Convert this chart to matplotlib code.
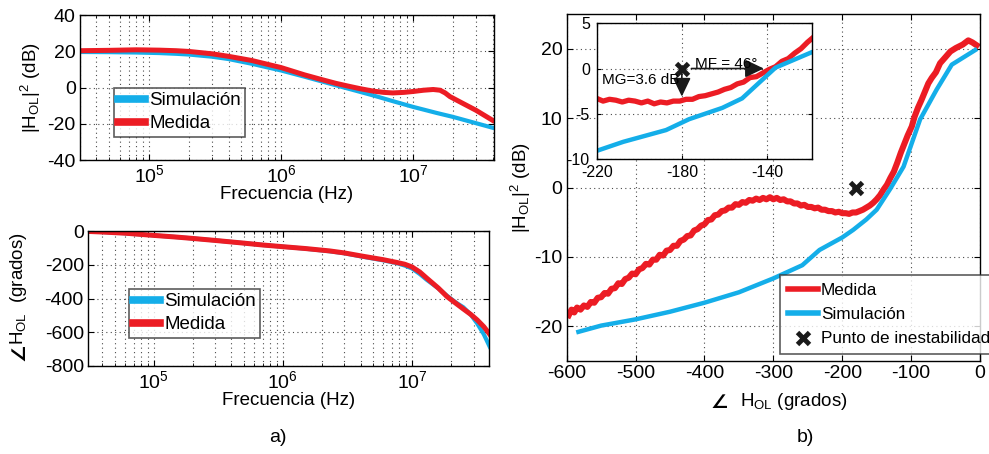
import matplotlib
matplotlib.use("Agg")
import matplotlib.pyplot as plt
from matplotlib.ticker import LogLocator, NullFormatter, FixedLocator

plt.rcParams['font.family'] = ['Liberation Sans', 'DejaVu Sans']
plt.rcParams['mathtext.fontset'] = 'custom'
plt.rcParams['mathtext.rm'] = 'Liberation Sans'
plt.rcParams['mathtext.it'] = 'Liberation Sans'
plt.rcParams['mathtext.bf'] = 'Liberation Sans:bold'
plt.rcParams['mathtext.default'] = 'regular'
plt.rcParams['mathtext.fallback'] = 'stixsans'
plt.rcParams['axes.unicode_minus'] = False

BLUE = '#14aee9'
RED = '#ec1c24'
GRID = dict(color='#4a4a4a', linestyle=(0, (1, 3)), linewidth=0.8)

# ---------------- Bode magnitude (Hz, dB) ----------------
freq_mag_sim = [3e4, 5e4, 8e4, 1.2e5, 1.6e5, 2e5, 3e5, 4e5, 6e5, 8e5, 1e6,
                1.5e6, 2e6, 3e6, 5e6, 7e6, 1e7, 1.5e7, 2e7, 3e7, 4e7]
mag_sim = [19.6, 19.5, 19.3, 19.0, 18.6, 18.2, 17.0, 15.7, 13.1, 11.0, 9.4,
           6.0, 3.5, 0.0, -4.4, -7.5, -10.7, -14.0, -16.2, -19.7, -22.2]
freq_mag_med = [3e4, 5e4, 8e4, 1.2e5, 1.6e5, 2e5, 3e5, 4e5, 6e5, 8e5, 1e6,
                1.5e6, 2e6, 2.6e6, 3.3e6, 4e6, 5e6, 6e6, 7e6, 8.5e6, 1e7,
                1.2e7, 1.42e7, 1.6e7, 1.75e7, 1.9e7, 2.4e7, 3e7, 4e7]
mag_med = [20.3, 20.5, 20.8, 20.6, 20.3, 19.9, 18.6, 17.2, 14.9, 12.7, 11.0,
           7.0, 4.5, 2.3, 0.6, -0.7, -2.0, -2.7, -3.0, -2.7, -2.2,
           -1.5, -1.1, -1.5, -3.0, -5.0, -8.9, -12.6, -18.1]

# ---------------- Bode phase (Hz, grados) ----------------
freq_ph = [3e4, 4e4, 6e4, 1e5, 1.5e5, 2e5, 3e5, 5e5, 7e5, 1e6, 1.5e6, 2.3e6,
           3e6, 4.2e6, 6e6, 7.6e6, 8.8e6, 1e7, 1.15e7, 1.3e7, 1.6e7, 1.87e7,
           2.2e7, 2.5e7, 2.85e7, 3.2e7, 3.6e7, 4e7]
ph_sim = [-2, -6, -13, -26, -36, -44, -56, -72, -83, -93, -105, -120,
          -132, -153, -174, -190, -205, -222, -255, -289, -340, -384,
          -425, -452, -495, -548, -612, -686]
ph_med = [-2, -6, -13, -26, -36, -44, -56, -72, -83, -93, -104, -118,
          -130, -150, -170, -186, -197, -213, -243, -279, -338, -389,
          -430, -462, -494, -527, -567, -612]

# ---------------- Nichols: fase (grados) vs |H|^2 (dB) ----------------
nich_ph_sim = [-583, -550, -500, -450, -400, -350, -300, -258, -233, -200,
               -184, -165, -150, -131, -111, -87, -63, -41, -7]
nich_mag_sim = [-20.8, -19.9, -19.0, -17.9, -16.6, -15.1, -13.1, -11.2, -9.0,
                -7.2, -6.1, -4.6, -3.2, -0.3, 3.0, 9.8, 14.1, 17.7, 19.8]
nich_ph_med = [-597, -593, -589, -585, -580, -575, -570, -565, -560, -555,
               -550, -545, -540, -535, -530, -525, -520, -515, -510, -505,
               -500, -495, -490, -485, -480, -475, -470, -465, -460, -455,
               -450, -445, -440, -435, -430, -425, -420, -415, -410, -405,
               -400, -395, -390, -385, -380, -375, -370, -365, -360, -355,
               -350, -345, -340, -335, -330, -325, -320, -315, -310, -305,
               -300, -295, -290, -285, -280, -275, -270, -265, -260, -255,
               -250, -245, -240, -235, -230, -225, -220, -215, -210, -205,
               -200, -195, -190, -185, -180, -175, -170, -165, -160, -155,
               -150, -145, -140, -135, -130, -125, -120, -115, -111, -105,
               -99, -95, -90, -85, -80, -75, -70, -64, -58, -50,
               -43, -35, -25, -17, -11, -5]
nich_mag_med = [-18.4, -17.6, -18.0, -17.3, -17.6, -17.0, -17.2, -16.5, -16.6, -15.9,
                -15.8, -15.2, -15.3, -14.6, -14.5, -13.8, -13.9, -13.2, -13.0, -12.4,
                -12.5, -11.8, -11.6, -11.0, -11.1, -10.4, -10.4, -9.7, -9.8, -9.1,
                -9.0, -8.4, -8.4, -7.7, -7.5, -7.0, -6.9, -6.2, -6.0, -5.5,
                -5.3, -4.7, -4.6, -4.0, -3.9, -3.4, -3.3, -2.9, -2.9, -2.4,
                -2.5, -2.1, -2.2, -1.8, -1.9, -1.6, -1.8, -1.5, -1.7, -1.4,
                -1.7, -1.5, -1.8, -1.7, -2.0, -2.0, -2.3, -2.3, -2.6, -2.5,
                -2.8, -2.8, -3.0, -2.9, -3.2, -3.2, -3.4, -3.4, -3.6, -3.5,
                -3.7, -3.7, -3.8, -3.6, -3.6, -3.4, -3.2, -2.9, -2.6, -2.2,
                -1.7, -1.1, -0.3, 0.4, 1.4, 2.3, 3.6, 5.0, 6.0, 7.5,
                8.8, 10.2, 11.5, 12.6, 13.8, 15.0, 15.8, 16.6, 17.9, 18.8,
                19.6, 20.1, 20.6, 21.2, 20.9, 20.5]

# Detalle alrededor del punto crítico
zoom_ph_sim = [-220, -207.5, -187.4, -176.6, -161, -151.7, -136, -119]
zoom_mag_sim = [-9.1, -8.1, -6.8, -5.6, -4.35, -3.3, 0.1, 1.8]
zoom_ph_med = [-220, -217, -214, -211, -208, -205, -202, -199, -196, -193,
               -190, -187, -184, -181, -178, -175, -172, -169, -166, -163,
               -160, -157, -154, -151, -148, -145, -142, -139, -136, -133,
               -130, -127, -124, -121, -119]
zoom_mag_med = [-3.3, -3.6, -3.4, -3.5, -3.7, -3.5, -3.6, -3.8, -3.6, -3.9,
                -3.7, -3.8, -3.6, -3.6, -3.4, -3.4, -3.1, -3.0, -2.8, -2.6,
                -2.3, -2.1, -1.7, -1.5, -1.0, -0.9, -0.5, -0.1, 0.2, 0.8,
                1.1, 1.7, 2.2, 2.9, 3.3]

crit_ph = -180
crit_mag = 0
mg_db = 3.6
mf_deg = 46

W, H = 989, 454
fig = plt.figure(figsize=(W / 100, H / 100), dpi=100)

TICK = 14
LABEL = 13.5


def rect(l, t, r, b):
    return [l / W, 1 - b / H, (r - l) / W, (b - t) / H]


def style(ax, size=TICK):
    ax.tick_params(direction='in', which='both', top=True, right=True,
                   labelsize=size, pad=3)
    ax.tick_params(which='major', length=4)
    ax.tick_params(which='minor', length=2)
    for s in ax.spines.values():
        s.set_linewidth(1.0)


def make_legend(ax, anchor, size, hl, bp, ls, lw):
    leg = ax.legend(loc='upper left', bbox_to_anchor=(anchor[0] / W, 1 - anchor[1] / H),
                    bbox_transform=fig.transFigure, fontsize=size, frameon=True,
                    fancybox=False, borderaxespad=0, handlelength=hl,
                    handletextpad=0.2, borderpad=bp, labelspacing=ls)
    leg.get_frame().set_edgecolor('#333333')
    leg.get_frame().set_linewidth(1.2)
    for ln in leg.get_lines():
        if ln.get_marker() in (None, 'None', '', ' '):
            ln.set_linewidth(lw)
    return leg


# ---------- a) magnitud ----------
ax1 = fig.add_axes(rect(80, 15, 494, 160))
ax1.semilogx(freq_mag_sim, mag_sim, color=BLUE, lw=3.0, label='Simulación')
ax1.semilogx(freq_mag_med, mag_med, color=RED, lw=3.6, label='Medida')
ax1.set_xlim(3e4, 4.1e7)
ax1.set_ylim(-40, 40)
ax1.set_yticks([-40, -20, 0, 20, 40])
ax1.xaxis.set_major_locator(FixedLocator([1e5, 1e6, 1e7]))
ax1.xaxis.set_minor_locator(LogLocator(base=10, subs=range(2, 10)))
ax1.xaxis.set_minor_formatter(NullFormatter())
ax1.grid(True, which='both', axis='x', **GRID)
ax1.grid(True, which='major', axis='y', **GRID)
style(ax1)
ax1.set_xlabel('Frecuencia (Hz)', fontsize=LABEL, labelpad=0)
ax1.set_ylabel(r'$|H_{OL}|^2$ (dB)', fontsize=LABEL, labelpad=3)
make_legend(ax1, (114, 88), LABEL, 1.45, 0.22, 0.32, 5.5)

# ---------- a) fase ----------
ax2 = fig.add_axes(rect(88, 231, 489, 366))
ax2.semilogx(freq_ph, ph_sim, color=BLUE, lw=3.0, label='Simulación')
ax2.semilogx(freq_ph, ph_med, color=RED, lw=3.6, label='Medida')
ax2.set_xlim(3.1e4, 3.95e7)
ax2.set_ylim(-800, 0)
ax2.set_yticks([-800, -600, -400, -200, 0])
ax2.xaxis.set_major_locator(FixedLocator([1e5, 1e6, 1e7]))
ax2.xaxis.set_minor_locator(LogLocator(base=10, subs=range(2, 10)))
ax2.xaxis.set_minor_formatter(NullFormatter())
ax2.grid(True, which='both', axis='x', **GRID)
ax2.grid(True, which='major', axis='y', **GRID)
style(ax2)
ax2.set_xlabel('Frecuencia (Hz)', fontsize=LABEL, labelpad=0)
make_legend(ax2, (129, 289), LABEL, 1.45, 0.22, 0.32, 5.5)
# etiqueta vertical de fase: símbolo de ángulo + texto
fig.text(10 / W, 1 - 361 / H, '∠', rotation=90, ha='left', va='bottom',
         family='DejaVu Sans', weight='bold', fontsize=14)
fig.text(8 / W, 1 - 345 / H, r'$H_{OL}$  (grados)', rotation=90,
         ha='left', va='bottom', fontsize=LABEL)

# ---------- b) Nichols ----------
ax3 = fig.add_axes(rect(566.7, 14, 980, 361))
ax3.plot(nich_ph_med, nich_mag_med, color=RED, lw=4.4, label='Medida')
ax3.plot(nich_ph_sim, nich_mag_sim, color=BLUE, lw=3.2, label='Simulación')
ax3.plot([crit_ph], [crit_mag], linestyle='none', marker='x', color='#1a1a1a',
         ms=9, mew=3.5, label='Punto de inestabilidad')
ax3.set_xlim(-600, 0)
ax3.set_ylim(-25, 25)
ax3.set_xticks(range(-600, 1, 100))
ax3.set_yticks([-20, -10, 0, 10, 20])
ax3.grid(True, **GRID)
style(ax3)
ax3.set_ylabel(r'$|H_{OL}|^2$ (dB)', fontsize=LABEL, labelpad=1)
make_legend(ax3, (780, 275), 12.3, 1.75, 0.45, 0.55, 4.0)
fig.text(711 / W, 1 - 408 / H, '∠', ha='left', va='baseline',
         family='DejaVu Sans', weight='bold', fontsize=14)
fig.text(740 / W, 1 - 406 / H, r'$H_{OL}$ (grados)', ha='left', va='baseline',
         fontsize=LABEL)

# ---------- b) detalle ----------
ax4 = fig.add_axes(rect(596.7, 23.3, 811.7, 159))
ax4.plot(zoom_ph_med, zoom_mag_med, color=RED, lw=3.8)
ax4.plot(zoom_ph_sim, zoom_mag_sim, color=BLUE, lw=3.2)
ax4.plot([crit_ph], [crit_mag], linestyle='none', marker='x', color='#1a1a1a',
         ms=9, mew=3.5)
ax4.set_xlim(-220, -119)
ax4.set_ylim(-10, 5)
ax4.set_xticks([-220, -180, -140])
ax4.set_yticks([-10, -5, 0, 5])
ax4.grid(True, **GRID)
ax4.tick_params(direction='in', top=True, right=True, labelsize=11.5, pad=3,
                length=3)
ax4.tick_params(axis='y', pad=5)
ax4.tick_params(axis='x', pad=4)
for s in ax4.spines.values():
    s.set_linewidth(1.0)
ax4.set_facecolor('white')

HEAD = dict(arrowstyle='-|>,head_length=1.15,head_width=0.55',
            color='#1a1a1a', lw=1.2, shrinkA=0, shrinkB=0)
# margen de ganancia
ax4.annotate('', xy=(crit_ph, crit_mag - mg_db + 0.5), xytext=(crit_ph, crit_mag - 0.2),
             arrowprops=HEAD)
ax4.text(-217.5, -1.3, 'MG=%.1f dB' % mg_db, fontsize=11, ha='left', va='center')
# margen de fase
ax4.annotate('', xy=(crit_ph + mf_deg - 7.5, crit_mag), xytext=(crit_ph + 4.5, crit_mag),
             arrowprops=HEAD)
ax4.text(-174, 0.55, 'MF = %d°' % mf_deg, fontsize=11, ha='left', va='center')

fig.text(278 / W, 1 - 437 / H, 'a)', ha='center', va='center', fontsize=14)
fig.text(805 / W, 1 - 437 / H, 'b)', ha='center', va='center', fontsize=14)

fig.savefig('out.png', dpi=100)
